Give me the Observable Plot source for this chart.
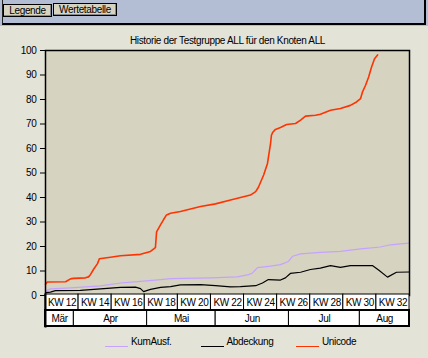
<!DOCTYPE html>
<html><head><meta charset="utf-8">
<script src="https://cdn.jsdelivr.net/npm/d3@7"></script>
<script src="https://cdn.jsdelivr.net/npm/@observablehq/plot@0.6"></script>
<style>
body{margin:0;background:#e4e3d7;width:428px;height:358px;overflow:hidden;position:relative;font-family:"Liberation Sans",Arial,sans-serif;font-size:10px;letter-spacing:-0.35px;color:#000;}
#panel{position:absolute;left:0;top:0;width:428px;height:26px;background:#b3bed4;}
#panelIn{position:absolute;left:2px;top:0;width:421px;height:23px;border-left:1px solid #222;border-right:2px solid #000;border-bottom:2px solid #000;}
.btn{position:absolute;height:11px;line-height:11px;background:#d6d3c1;border:1px solid #000;text-align:center;box-shadow:inset -1px -1px 0 #888;}
#main,#cal{position:absolute;left:0;}
#main{top:0;}
#cal{top:293px;}
#legend{position:absolute;top:336px;left:105px;display:flex;}
.item{width:95.5px;display:flex;align-items:flex-end;height:12px;line-height:12px;}
.sw{display:inline-block;width:23px;height:1px;margin-right:3px;margin-bottom:1px;}
</style></head><body>
<div id="panel"><div id="panelIn"></div>
<div class="btn" style="left:3px;top:4px;width:47px;">Legende</div>
<div class="btn" style="left:53px;top:3px;width:62px;">Wertetabelle</div>
</div>
<div id="main"></div>
<div id="cal"></div>
<div id="legend"></div>
<script>
const titleText = "Historie der Testgruppe ALL für den Knoten ALL";
const seriesNames = ["KumAusf.", "Abdeckung", "Unicode"];
const seriesColors = ["#c6a2ff", "#000000", "#ff3300"];
const yTicks = [0, 10, 20, 30, 40, 50, 60, 70, 80, 90, 100];
const xStart = "2007-03-19", xEnd = "2007-08-20";

const kumDates = ["2007-03-19 00","2007-03-21 02","2007-03-29 14","2007-04-11 07","2007-04-19 17","2007-04-28 05","2007-05-06 17","2007-05-10 22","2007-05-27 19","2007-06-08 05","2007-06-12 22","2007-06-14 14","2007-06-16 17","2007-06-22 05","2007-06-26 10","2007-06-29 19","2007-07-01 12","2007-07-04 22","2007-07-13 07","2007-07-21 19","2007-07-30 07","2007-08-07 17","2007-08-11 22","2007-08-16 02","2007-08-20 00"];
const kumValues = [1.8,2.7,3.1,3.9,5.1,5.8,6.5,6.9,7.2,7.6,8.5,9.2,11.4,12.0,12.6,13.9,16.0,17.0,17.6,18.0,19.0,19.8,20.7,21.1,21.4];

const abdDates = ["2007-03-19 00","2007-03-21 02","2007-03-23 05","2007-04-02 19","2007-04-11 07","2007-04-19 17","2007-04-26 02","2007-04-28 05","2007-04-29 12","2007-05-02 10","2007-05-06 17","2007-05-10 22","2007-05-15 02","2007-05-23 14","2007-05-29 22","2007-06-05 07","2007-06-09 12","2007-06-15 22","2007-06-18 19","2007-06-21 07","2007-06-26 10","2007-06-28 12","2007-06-30 14","2007-07-04 22","2007-07-09 02","2007-07-13 07","2007-07-17 14","2007-07-21 19","2007-07-26 00","2007-08-04 07","2007-08-06 22","2007-08-10 17","2007-08-14 12","2007-08-20 00"];
const abdValues = [1.2,1.4,2.0,2.1,2.7,3.3,3.4,2.8,1.6,2.5,3.3,3.6,4.3,4.4,4.0,3.5,3.6,4.0,5.1,6.5,6.3,7.2,9.0,9.5,10.6,11.2,12.2,11.5,12.2,12.2,10.4,7.5,9.5,9.6];

const uniDates = ["2007-03-19 00","2007-03-19 19","2007-03-27 12","2007-03-29 14","2007-03-30 19","2007-04-04 22","2007-04-06 05","2007-04-07 00","2007-04-08 07","2007-04-10 00","2007-04-10 19","2007-04-15 12","2007-04-19 17","2007-04-28 05","2007-05-02 10","2007-05-04 12","2007-05-05 00","2007-05-06 17","2007-05-07 22","2007-05-09 05","2007-05-10 22","2007-05-15 02","2007-05-23 14","2007-05-29 22","2007-06-05 07","2007-06-13 17","2007-06-15 22","2007-06-17 02","2007-06-19 07","2007-06-20 22","2007-06-22 05","2007-06-22 14","2007-06-23 02","2007-06-24 07","2007-06-26 10","2007-06-29 00","2007-07-02 19","2007-07-04 22","2007-07-07 00","2007-07-11 05","2007-07-13 07","2007-07-17 14","2007-07-21 19","2007-07-26 00","2007-07-28 14","2007-07-30 07","2007-07-31 02","2007-08-01 10","2007-08-02 17","2007-08-03 22","2007-08-05 05","2007-08-06 12"];
const uniValues = [4.6,5.5,5.6,6.8,7.0,7.2,7.6,8.5,10.6,13.0,15.0,15.6,16.2,16.8,18.0,19.5,26.0,28.9,30.9,32.9,33.6,34.3,36.3,37.4,39.0,41.0,42.4,44.2,49.2,53.9,62.0,65.4,66.5,67.8,68.6,69.8,70.2,71.6,73.2,73.6,74.0,75.6,76.3,77.6,79.0,80.4,83.0,85.8,89.2,93.2,96.6,98.2];

const kwLabels = ["KW 12","KW 14","KW 16","KW 18","KW 20","KW 22","KW 24","KW 26","KW 28","KW 30","KW 32"];
const kwStarts = ["2007-03-19","2007-04-02","2007-04-16","2007-04-30","2007-05-14","2007-05-28","2007-06-11","2007-06-25","2007-07-09","2007-07-23","2007-08-06"];
const monthLabels = ["Mär","Apr","Mai","Jun","Jul","Aug"];
const monthStarts = ["2007-03-19","2007-03-31","2007-05-01","2007-05-30","2007-06-30","2007-07-30"];

const pt = d3.timeParse("%Y-%m-%d %H");
const pd = d3.timeParse("%Y-%m-%d");
const domain = [pd(xStart), pd(xEnd)];
const seriesData = [
  {name: seriesNames[0], color: seriesColors[0], width: 1.2, dates: kumDates, values: kumValues},
  {name: seriesNames[1], color: seriesColors[1], width: 1.2, dates: abdDates, values: abdValues},
  {name: seriesNames[2], color: seriesColors[2], width: 1.6, dates: uniDates, values: uniValues}
];
const font = {fontFamily: "Liberation Sans, Arial, sans-serif", fontSize: "10px", letterSpacing: "-0.35px", background: "transparent", color: "#000", overflow: "visible"};

const main = Plot.plot({
  width: 428, height: 300,
  marginLeft: 45, marginRight: 19, marginTop: 50, marginBottom: 5,
  style: font,
  x: {type: "time", domain, axis: null},
  y: {domain: [0, 100], axis: null},
  marks: [
    Plot.frame({fill: "#d6d3c1"}),
    ...seriesData.map(s => Plot.line(s.dates.map((d, i) => ({date: pt(d), value: s.values[i]})), {x: "date", y: "value", stroke: s.color, strokeWidth: s.width})),
    Plot.frame({stroke: "#000", strokeWidth: 1.5}),
    Plot.axisY({ticks: yTicks, tickSize: 5, tickPadding: 4, tickFormat: d => d, label: null, stroke: "#000"}),
    Plot.text([titleText], {frameAnchor: "top", dy: -6.5, lineAnchor: "bottom", text: d => d, fill: "#000"})
  ]
});
document.getElementById("main").appendChild(main);

function cells(labels, starts, row) {
  return labels.map((l, i) => {
    const s = pd(starts[i]);
    const e = i + 1 < starts.length ? pd(starts[i + 1]) : domain[1];
    return {label: l, start: s, end: e, mid: new Date((+s + +e) / 2), row};
  });
}
const kwCells = cells(kwLabels, kwStarts, "KW");
const monthCells = cells(monthLabels, monthStarts, "Monat");

const cal = Plot.plot({
  width: 428, height: 35,
  marginLeft: 45, marginRight: 19, marginTop: 1, marginBottom: 2,
  style: font,
  x: {type: "time", domain, axis: null},
  y: {type: "band", domain: ["KW", "Monat"], padding: 0, axis: null},
  marks: [
    Plot.barX(kwCells, {x1: "start", x2: "end", y: "row", fill: "white", stroke: "#000", strokeWidth: 1}),
    Plot.barX(monthCells, {x1: "start", x2: "end", y: "row", fill: "white", stroke: "#000", strokeWidth: 1}),
    Plot.barX([{row: "Monat"}], {x1: () => domain[0], x2: () => domain[1], y: "row", fill: "none", stroke: "#000", strokeWidth: 2}),
    Plot.frame({stroke: "#000", strokeWidth: 2, anchor: "left"}),
    Plot.text(kwCells, {x: "mid", y: "row", text: "label", fill: "#000"}),
    Plot.text(monthCells, {x: "mid", y: "row", text: "label", fill: "#000"})
  ]
});
document.getElementById("cal").appendChild(cal);

const legend = document.getElementById("legend");
seriesNames.forEach((n, i) => {
  const it = document.createElement("div");
  it.className = "item";
  const sw = document.createElement("span");
  sw.className = "sw";
  sw.style.background = seriesColors[i];
  const lb = document.createElement("span");
  lb.textContent = n;
  it.appendChild(sw); it.appendChild(lb);
  legend.appendChild(it);
});
</script>
</body></html>
